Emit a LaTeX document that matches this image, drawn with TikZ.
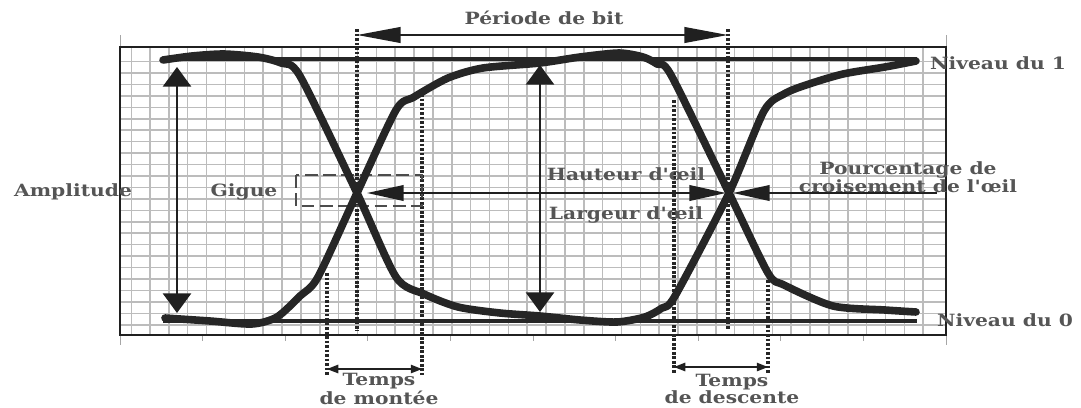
\documentclass[tikz,border=0pt]{standalone}
\usepackage{fontspec}
\newfontfamily\labfont[FakeStretch=1.2]{DejaVu Serif}
\usetikzlibrary{arrows.meta}
\definecolor{labgray}{HTML}{555555}
\definecolor{curvecol}{HTML}{262626}
\definecolor{gridcol}{HTML}{BCBCBC}
\definecolor{framecol}{HTML}{202020}
\begin{document}
\begin{tikzpicture}[x=0.025cm,y=-0.025cm,
  lab/.style={font=\labfont\bfseries\fontsize{12}{10}\selectfont, text=labgray, inner sep=0pt, align=center},
  curve/.style={line width=5.4pt, draw=curvecol, line join=round, line cap=round},
  level/.style={line width=2.4pt, draw=curvecol},
  gridln/.style={line width=1.1pt, draw=gridcol},
  tickln/.style={line width=0.7pt, draw=gray!70},
  framebox/.style={line width=1.8pt, draw=framecol},
  dotln/.style={line width=2.3pt, draw=black!85, dash pattern=on 1.8pt off 1.4pt},
  gigbox/.style={line width=1.2pt, draw=gray!60!black, dash pattern=on 9pt off 4pt},
  vdbl/.style={{Triangle[length=14pt,width=20pt]}-{Triangle[length=14pt,width=20pt]}, line width=1.8pt, draw=framecol},
  perarr/.style={{Triangle[length=31pt,width=11pt]}-{Triangle[length=31pt,width=11pt]}, line width=1.8pt, draw=framecol},
  hdbl/.style={{Triangle[length=26pt,width=11pt]}-{Triangle[length=26pt,width=11pt]}, line width=1.5pt, draw=framecol},
  hsgl/.style={-{Triangle[length=26pt,width=11pt]}, line width=1.5pt, draw=framecol},
  smdbl/.style={{Triangle[length=8pt,width=6pt]}-{Triangle[length=8pt,width=6pt]}, line width=1.1pt, draw=framecol}
]
\useasboundingbox (0,0) rectangle (1081,408);
\fill[white] (0,0) rectangle (1081,408);

% grid
\draw[gridln] (131.5,47) -- (131.5,335);
\foreach \k in {0,...,41} \draw[gridln] ({150+18.86*\k},47) -- ({150+18.86*\k},335);
\foreach \k in {0,...,23} \draw[gridln] (120,{61.5+11.45*\k}) -- (946,{61.5+11.45*\k});

% ticks and extension lines
\draw[tickln] (120,35) -- (120,345);
\draw[tickln] (946,35) -- (946,345);
\foreach \k in {1,...,9} \draw[tickln] ({120+82.6*\k},335) -- ({120+82.6*\k},341);

% frame
\draw[framebox] (120,47) rectangle (946,335);

% levels
\coordinate (l1a) at (163,59);
\coordinate (l1b) at (917,59);
\coordinate (l0a) at (163,321);
\coordinate (l0b) at (917,321);
\draw[level] (l1a) -- (l1b);
\draw[level] (l0a) -- (l0b);

% dotted lines
\coordinate (d1t) at (357,29);  \coordinate (d1b) at (357,331);
\coordinate (d2t) at (728,29);  \coordinate (d2b) at (728,329);
\coordinate (d3t) at (327,273); \coordinate (d3b) at (327,375);
\coordinate (d4t) at (422,94);  \coordinate (d4b) at (422,375);
\coordinate (d5t) at (674,100); \coordinate (d5b) at (674,373);
\coordinate (d6t) at (768,280); \coordinate (d6b) at (768,373);
\foreach \a/\b in {d1t/d1b,d2t/d2b,d3t/d3b,d4t/d4b,d5t/d5b,d6t/d6b}
  \draw[dotln] (\a) -- (\b);

% jitter box
\draw[gigbox] (296,175) rectangle (422,206);

% eye curves
\draw[curve] plot[smooth, tension=0.45] coordinates {
 (163,60) (192,56) (224,54) (258,57) (281,63) (300,76)
 (357,193) (396,277) (424,294) (458,307) (500,313) (540,316)
 (580,320) (617,322) (645,317) (662,308) (675,296)
 (729,193) (764,111) (784,94) (806,85) (843,74) (885,67) (916,61)};
\draw[curve] plot[smooth, tension=0.45] coordinates {
 (165,318) (210,321) (252,324) (277,317) (300,296) (318,277)
 (357,193) (396,110) (414,97) (448,78) (483,68) (540,63)
 (580,57) (619,53) (643,57) (657,64) (671,75)
 (729,193) (768,273) (784,285) (833,306) (885,310) (916,312)};

% arrows
\coordinate (pa) at (357,35);  \coordinate (pb) at (728,35);
\draw[perarr] (pa) -- (pb);
\coordinate (aa) at (177,67);  \coordinate (ab) at (177,313);
\draw[vdbl] (aa) -- (ab);
\coordinate (ha) at (540,65);  \coordinate (hb) at (540,312);
\draw[vdbl] (ha) -- (hb);
\coordinate (wa) at (367,193); \coordinate (wb) at (726,193);
\draw[hdbl] (wa) -- (wb);
\coordinate (ca) at (937,193); \coordinate (cb) at (733,193);
\draw[hsgl] (ca) -- (cb);
\coordinate (ra) at (327,369); \coordinate (rb) at (422,369);
\draw[smdbl] (ra) -- (rb);
\coordinate (fa) at (674,367); \coordinate (fb) at (768,367);
\draw[smdbl] (fa) -- (fb);

% labels
\node[lab] (tper) at (544,18) {Période de bit};
\node[lab] (tamp) at (73,192) {Amplitude};
\node[lab] (tgig) at (244,192) {Gigue};
\node[lab] (thaut) at (626,174) {Hauteur d'œil};
\node[lab] (tlarg) at (626,215) {Largeur d'œil};
\node[lab] (tpct) at (908,177) {Pourcentage de\\croisement de l'œil};
\node[lab] (tn1) at (998,63) {Niveau du 1};
\node[lab] (tn0) at (1005,320) {Niveau du 0};
\node[lab] (tmon) at (379,389) {Temps\\de montée};
\node[lab] (tdes) at (732,389) {Temps\\de descente};
\end{tikzpicture}
\end{document}
